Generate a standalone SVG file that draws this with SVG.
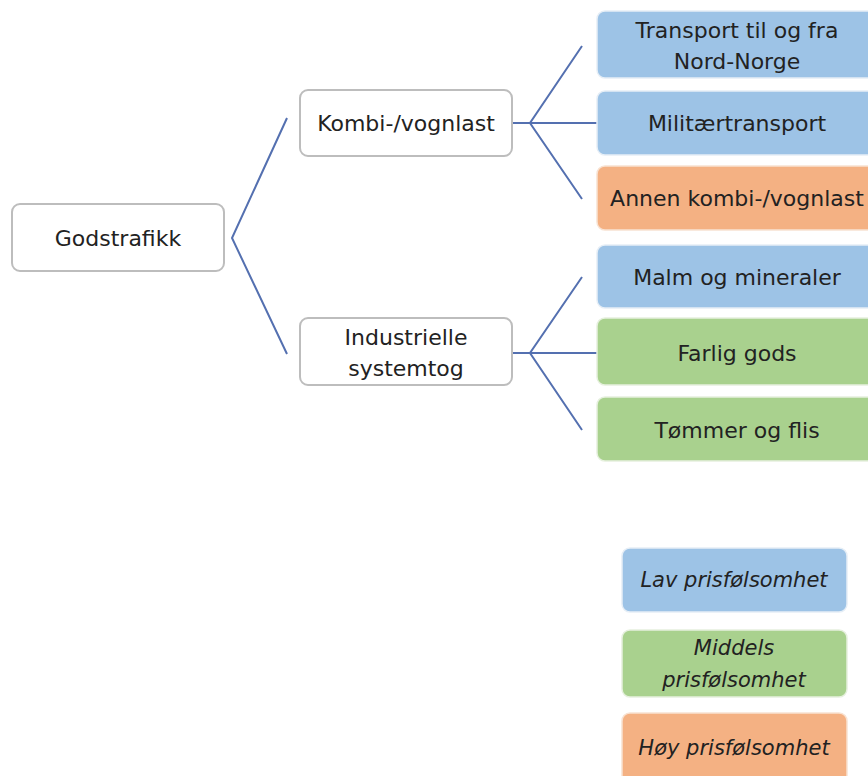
<svg xmlns="http://www.w3.org/2000/svg" width="868" height="776" viewBox="0 0 868 776">
<defs>
<style>
text{font-family:"DejaVu Sans","Liberation Sans",sans-serif;font-size:22px;fill:#222;text-anchor:middle;dominant-baseline:central}
.it{font-style:italic;font-size:21px}
.w{fill:#fff;stroke:#bdbdbd;stroke-width:2}
.b{fill:#9dc3e6;stroke:#e6eef6;stroke-width:1.5}
.g{fill:#a9d18e;stroke:#e6f0de;stroke-width:1.5}
.o{fill:#f4b183;stroke:#f8e2d2;stroke-width:1.5}
.c{fill:none;stroke:#5470b0;stroke-width:2}
</style>
</defs>
<rect width="868" height="776" fill="#fff"/>
<g id="connectors">
<polyline class="c" points="287,118 232,238 287,354"/>
<line class="c" x1="512" y1="123" x2="597" y2="123"/>
<polyline class="c" points="582,46 530,123 582,199"/>
<line class="c" x1="512" y1="353" x2="597" y2="353"/>
<polyline class="c" points="582,277 530,353 582,430"/>
</g>
<g id="godstrafikk"><rect class="w" x="12" y="204" width="212" height="67" rx="8"/><text x="118" y="238">Godstrafikk</text></g>
<g id="kombi"><rect class="w" x="300" y="90" width="212" height="66" rx="8"/><text x="406" y="123">Kombi-/vognlast</text></g>
<g id="industrielle"><rect class="w" x="300" y="318" width="212" height="67" rx="8"/><text x="406" y="337">Industrielle</text><text x="406" y="368">systemtog</text></g>
<g id="transport"><rect class="b" x="597" y="11" width="285" height="67" rx="8"/><text x="737" y="30">Transport til og fra</text><text x="737" y="61">Nord-Norge</text></g>
<g id="militaer"><rect class="b" x="597" y="91" width="285" height="64" rx="8"/><text x="737" y="123">Militærtransport</text></g>
<g id="annen"><rect class="o" x="597" y="166" width="285" height="64" rx="8"/><text x="737" y="198">Annen kombi-/vognlast</text></g>
<g id="malm"><rect class="b" x="597" y="245" width="285" height="63" rx="8"/><text x="737" y="277">Malm og mineraler</text></g>
<g id="farlig"><rect class="g" x="597" y="318" width="285" height="67" rx="8"/><text x="737" y="353">Farlig gods</text></g>
<g id="tommer"><rect class="g" x="597" y="397" width="285" height="64" rx="8"/><text x="737" y="430">Tømmer og flis</text></g>
<g id="legend-lav"><rect class="b" x="622" y="548" width="225" height="64" rx="8"/><text class="it" x="734" y="580">Lav prisfølsomhet</text></g>
<g id="legend-middels"><rect class="g" x="622" y="630" width="225" height="67" rx="8"/><text class="it" x="734" y="648">Middels</text><text class="it" x="734" y="680">prisfølsomhet</text></g>
<g id="legend-hoy"><rect class="o" x="622" y="713" width="225" height="75" rx="8"/><text class="it" x="734" y="748">Høy prisfølsomhet</text></g>
</svg>
